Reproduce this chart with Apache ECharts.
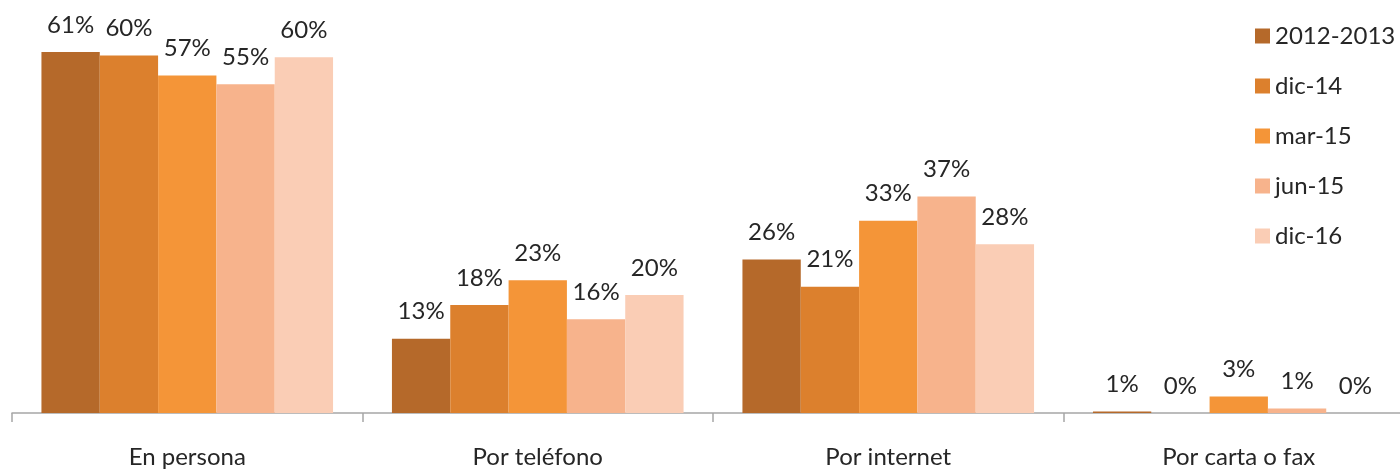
<!DOCTYPE html>
<html>
<head>
<meta charset="utf-8">
<script src="https://cdn.jsdelivr.net/npm/echarts@6/dist/echarts.min.js"></script>
<style>
  html, body { margin: 0; padding: 0; background: #fff; }
  #chart { width: 1400px; height: 470px; }
</style>
</head>
<body>
<div id="chart"></div>
<script>
const categories = ['En persona', 'Por teléfono', 'Por internet', 'Por carta o fax'];
const seriesNames = ['2012-2013', 'dic-14', 'mar-15', 'jun-15', 'dic-16'];
// Bar heights (%)
const v2012 = [61.2, 12.6, 26.0, 0.25];
const vDic14 = [60.6, 18.3, 21.4, 0];
const vMar15 = [57.2, 22.5, 32.6, 2.8];
const vJun15 = [55.7, 15.9, 36.7, 0.76];
const vDic16 = [60.3, 20.0, 28.6, 0];
// Labels printed above the bars
const l2012 = ['61%', '13%', '26%', '1%'];
const lDic14 = ['60%', '18%', '21%', '0%'];
const lMar15 = ['57%', '23%', '33%', '3%'];
const lJun15 = ['55%', '16%', '37%', '1%'];
const lDic16 = ['60%', '20%', '28%', '0%'];

const colors = ['#B5692A', '#DC802D', '#F49538', '#F7B38C', '#FACDB5'];
const values = [v2012, vDic14, vMar15, vJun15, vDic16];
const labels = [l2012, lDic14, lMar15, lJun15, lDic16];

const FONT = 'Lato';
const TEXT = '#262626';
const FS = 24;

const chart = echarts.init(document.getElementById('chart'));
chart.setOption({
  animation: false,
  textStyle: { fontFamily: FONT },
  grid: { left: 12, width: 1402, top: 0, bottom: 57, containLabel: false, outerBoundsMode: 'none' },
  legend: {
    orient: 'vertical',
    left: 1250,
    top: 19,
    itemWidth: 15,
    itemHeight: 15,
    itemGap: 26,
    icon: 'rect',
    textStyle: { fontFamily: FONT, fontSize: FS, color: TEXT, lineHeight: 22 },
    data: seriesNames
  },
  xAxis: {
    type: 'category',
    data: categories,
    axisLine: { lineStyle: { color: '#A6A6A6', width: 1.5 } },
    axisTick: { show: true, length: 9, lineStyle: { color: '#A6A6A6', width: 1.5 } },
    axisLabel: { fontFamily: FONT, fontSize: FS, color: TEXT, margin: 32 }
  },
  yAxis: {
    type: 'value',
    min: 0,
    max: 70,
    show: false,
    splitLine: { show: false }
  },
  series: seriesNames.map((name, i) => ({
    name: name,
    type: 'bar',
    data: values[i],
    barGap: '0%',
    barCategoryGap: '16.8%',
    itemStyle: { color: colors[i] },
    label: {
      show: true,
      position: 'top',
      distance: 15,
      fontFamily: FONT,
      fontSize: FS,
      color: TEXT,
      formatter: p => labels[i][p.dataIndex]
    }
  }))
});
</script>
</body>
</html>
